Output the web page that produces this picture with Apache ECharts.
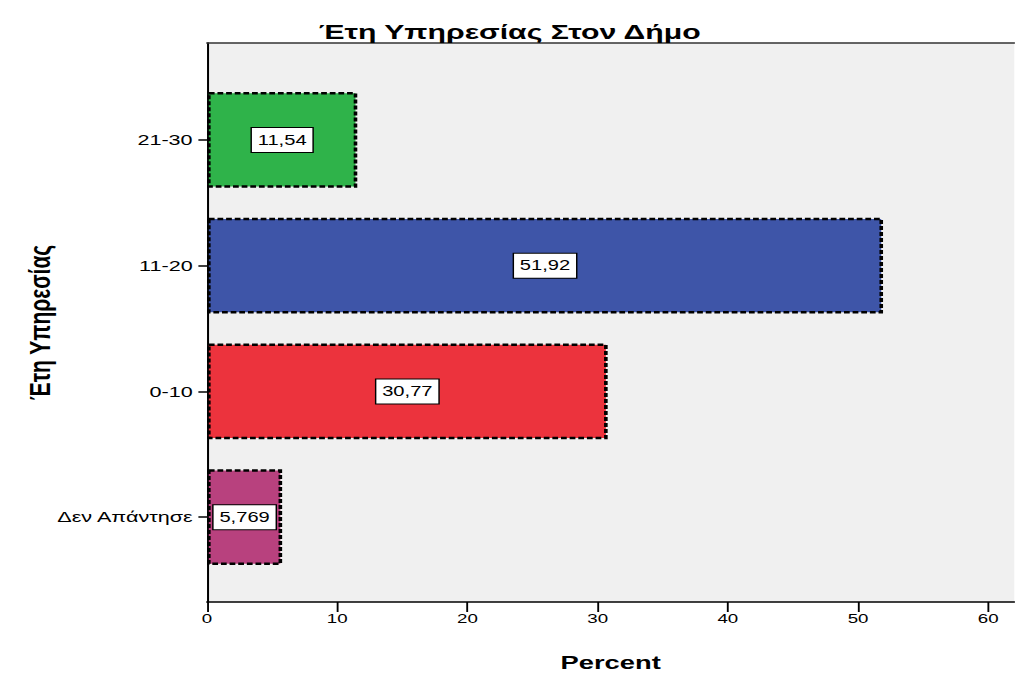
<!DOCTYPE html>
<html>
<head>
<meta charset="utf-8">
<script src="https://cdn.jsdelivr.net/npm/echarts@6/dist/echarts.min.js"></script>
<style>
  html, body { margin: 0; padding: 0; background: #ffffff; overflow: hidden; }
  /* The chart is laid out on a narrower canvas and widened, giving the broad lettering of the exported figure */
  #chart { width: 705px; height: 677px; transform: scaleX(1.43972); transform-origin: 0 0; }
</style>
</head>
<body>
<div id="chart"></div>
<script>
// Years of service groups, listed bottom to top
const categories = ['Δεν Απάντησε', '0-10', '11-20', '21-30'];
const percents = [5.769, 30.77, 51.92, 11.54];
const barColors = ['#b8417e', '#ec333d', '#3e55a8', '#2fb34a'];
const xTicks = { min: 0, max: 62, interval: 10 };

const fontMain = 'Liberation Sans, Arial, sans-serif';

const fmt = v => String(v).replace('.', ',');

const chart = echarts.init(document.getElementById('chart'), null, { renderer: 'svg' });
chart.setOption({
  animation: false,
  title: {
    text: 'Έτη Υπηρεσίας Στον Δήμο',
    left: 349, top: 16, textAlign: 'center',
    textStyle: { fontFamily: fontMain, fontSize: 21, fontWeight: 'bold', color: '#000' }
  },
  grid: [
    { left: 143.8, right: 0.5, top: 43, bottom: 70, show: true, backgroundColor: '#f0f0f0', borderWidth: 0 },
    { left: 143.8, right: 0.5, top: 77, bottom: 97 }
  ],
  xAxis: [
    {
      gridIndex: 0, type: 'value', position: 'bottom',
      min: xTicks.min, max: xTicks.max, interval: xTicks.interval,
      name: 'Percent', nameLocation: 'middle', nameGap: 51,
      nameTextStyle: { fontFamily: fontMain, fontSize: 19, fontWeight: 'bold', color: '#000' },
      axisLine: { show: true, lineStyle: { color: '#000', width: 1.5 } },
      axisTick: { show: true, length: 10, lineStyle: { color: '#000', width: 1.3 } },
      axisLabel: { showMaxLabel: false, margin: 10, fontFamily: fontMain, fontSize: 13, color: '#000' },
      splitLine: { show: false }
    },
    {
      gridIndex: 0, type: 'value', position: 'top',
      min: xTicks.min, max: xTicks.max,
      axisLine: { show: true, onZero: false, lineStyle: { color: '#333', width: 1.5 } },
      axisTick: { show: false }, axisLabel: { show: false }, splitLine: { show: false }
    },
    {
      gridIndex: 1, type: 'value',
      min: xTicks.min, max: xTicks.max, show: false
    }
  ],
  yAxis: [
    {
      gridIndex: 0, type: 'value', min: 0, max: 1,
      name: 'Έτη Υπηρεσίας', nameLocation: 'middle', nameRotate: 90, nameGap: 106,
      nameTextStyle: { fontFamily: fontMain, fontSize: 21, fontWeight: 'bold', color: '#000' },
      axisLine: { show: true, onZero: false, lineStyle: { color: '#000', width: 1.4 } },
      axisTick: { show: false }, axisLabel: { show: false }, splitLine: { show: false }
    },
    {
      gridIndex: 1, type: 'category', data: categories,
      axisLine: { show: false },
      axisTick: { show: true, alignWithLabel: true, length: 6, lineStyle: { color: '#000', width: 1.5 } },
      axisLabel: { margin: 10, fontFamily: fontMain, fontSize: 15, color: '#000' }
    }
  ],
  series: [{
    type: 'bar',
    xAxisIndex: 2, yAxisIndex: 1,
    barCategoryGap: '24%',
    data: percents.map((v, i) => ({
      value: v,
      itemStyle: { color: barColors[i] }
    })),
    itemStyle: { borderColor: '#000', borderWidth: 2.5, borderType: [4, 2] },
    label: {
      show: true, position: 'inside',
      formatter: p => fmt(p.value),
      fontFamily: fontMain, fontSize: 14, lineHeight: 15, color: '#000',
      backgroundColor: '#fff', borderColor: '#000', borderWidth: 1,
      padding: [5, 4, 4, 4]
    }
  }]
});
</script>
</body>
</html>
